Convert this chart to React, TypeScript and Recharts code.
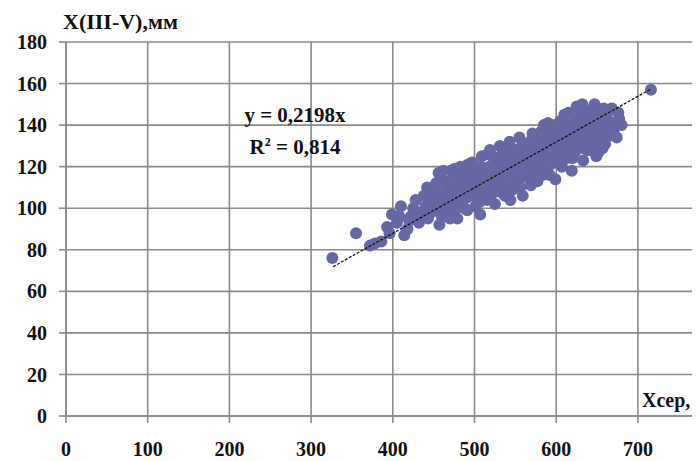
import React from "react";
import {
  ScatterChart,
  Scatter,
  XAxis,
  YAxis,
  CartesianGrid,
} from "recharts";

// Xcep (mm) / X(III-V) (mm) pairs
const xVals = [
  326, 355, 372, 378, 386, 393, 399, 405, 410, 414, 418, 422, 425, 428, 432, 436, 438, 440, 443, 446,
  448, 451, 453, 455, 457, 459, 461, 463, 465, 467, 469, 471, 473, 475, 477, 479, 481, 483, 485, 487,
  489, 491, 493, 495, 497, 499, 501, 503, 505, 507, 509, 511, 513, 515, 517, 519, 521, 523, 525, 527,
  529, 531, 533, 535, 537, 539, 541, 543, 545, 547, 549, 551, 553, 555, 557, 559, 561, 563, 565, 567,
  569, 571, 573, 575, 577, 579, 581, 583, 585, 587, 589, 591, 593, 595, 597, 599, 601, 603, 605, 607,
  609, 611, 613, 615, 617, 619, 621, 623, 625, 627, 629, 631, 633, 635, 637, 639, 641, 643, 645, 647,
  649, 651, 653, 655, 657, 659, 662, 665, 668, 671, 674, 677, 680, 716,
  442, 447, 452, 456, 460, 464, 468, 472, 476, 480, 484, 488, 492, 496, 500, 504, 508, 512, 516, 520,
  524, 528, 532, 536, 540, 544, 548, 552, 556, 560, 564, 568, 572, 576, 580, 584, 588, 592, 596, 600,
  604, 608, 612, 616, 620, 624, 628, 632, 636, 640, 644, 648, 652, 656, 660, 632, 610, 590,
  445, 450, 458, 462, 466, 470, 474, 478, 482, 486, 490, 494, 498, 502, 506, 510, 514, 518, 522, 526,
  530, 534, 538, 542, 546, 550, 554, 558, 562, 566, 570, 574, 578, 582, 586, 590, 594, 598, 602, 606,
  610, 614, 618, 622, 626, 630, 634, 638, 642, 646, 650, 654, 658, 664, 670, 676, 430, 420, 408, 396,
];
const yVals = [
  76, 88, 82, 83, 84, 91, 97, 93, 101, 87, 90, 96, 100, 104, 93, 98, 106, 101, 95, 109,
  103, 99, 112, 106, 92, 115, 102, 108, 97, 112, 104, 118, 100, 110, 106, 95, 114, 120, 103, 109,
  116, 99, 112, 106, 122, 118, 101, 110, 115, 97, 125, 108, 119, 104, 113, 128, 111, 117, 102, 123,
  108, 130, 114, 120, 106, 125, 111, 132, 117, 109, 122, 128, 113, 134, 119, 106, 125, 115, 130, 121,
  111, 136, 118, 127, 113, 133, 122, 116, 140, 126, 119, 131, 121, 137, 125, 114, 134, 128, 142, 120,
  131, 138, 124, 146, 133, 118, 141, 127, 149, 136, 130, 144, 123, 139, 147, 132, 128, 142, 136, 150,
  125, 140, 133, 146, 129, 138, 144, 135, 148, 141, 134, 143, 140, 157,
  110, 98, 104, 117, 96, 113, 101, 107, 119, 103, 111, 100, 121, 110, 114, 105, 120, 113, 126, 106,
  121, 115, 109, 128, 118, 104, 126, 118, 110, 131, 122, 128, 114, 132, 126, 120, 135, 116, 130, 122,
  137, 126, 132, 140, 124, 136, 143, 129, 135, 139, 131, 144, 127, 137, 131, 150, 145, 141,
  104, 110, 100, 118, 106, 95, 114, 100, 108, 117, 105, 115, 108, 120, 103, 116, 110, 120, 125, 110,
  120, 126, 115, 122, 128, 112, 124, 130, 119, 126, 133, 122, 128, 137, 130, 126, 134, 140, 130, 135,
  128, 136, 130, 145, 132, 138, 143, 128, 146, 140, 134, 142, 148, 140, 137, 146, 98, 94, 96, 88,
];

const xTicks = [0, 100, 200, 300, 400, 500, 600, 700];
const yTicks = [0, 20, 40, 60, 80, 100, 120, 140, 160, 180];

// linear trend through the origin
const slope = 0.2198;
const r2 = "0,814";
const trendX = [327, 716];

const points = xVals.map((x, i) => ({ x, y: yVals[i] }));
const trend = trendX.map((x) => ({ x, y: slope * x }));

const GRID = "#8a8a8a";
const DOT = "#6767a4";
const FONT = "'Liberation Serif', 'Times New Roman', serif";
const tickStyle = { fill: "#111", fontFamily: FONT, fontWeight: 700, fontSize: 20 };

const Dot = (p: any) => <circle cx={p.cx} cy={p.cy} r={6} fill={DOT} />;
const NoDot = () => <g />;

export default function App() {
  return (
    <div style={{ width: 692, height: 453, overflow: "hidden", fontFamily: FONT }}>
      <ScatterChart width={692} height={453} margin={{ top: 34, right: 0, left: 0, bottom: 0 }}>
        <CartesianGrid stroke={GRID} strokeWidth={1.6} />
        <XAxis
          type="number"
          dataKey="x"
          domain={[0, 776]}
          ticks={xTicks}
          interval={0}
          height={45}
          tickSize={7}
          tickMargin={19}
          stroke={GRID}
          strokeWidth={1.6}
          tick={tickStyle}
        />
        <YAxis
          type="number"
          dataKey="y"
          domain={[0, 180]}
          ticks={yTicks}
          interval={0}
          width={58}
          tickSize={7}
          tickMargin={12}
          stroke={GRID}
          strokeWidth={1.6}
          tick={tickStyle}
        />
        <Scatter data={points} fill={DOT} shape={Dot} isAnimationActive={false} />
        <Scatter
          data={trend}
          shape={NoDot}
          line={{ stroke: "#111", strokeWidth: 1.3, strokeDasharray: "3 1.5" }}
          isAnimationActive={false}
        />
        <text x={55} y={21} fontFamily={FONT} fontWeight={700} fontSize={22} fill="#111">
          X(III-V),мм
        </text>
        <text x={634} y={399} fontFamily={FONT} fontWeight={700} fontSize={20} fill="#111">
          Xcep,
        </text>
        <text x={287} y={114} textAnchor="middle" fontFamily={FONT} fontWeight={700} fontSize={21} fill="#111">
          y = 0,2198x
        </text>
        <text x={287} y={146} textAnchor="middle" fontFamily={FONT} fontWeight={700} fontSize={21} fill="#111">
          R<tspan dy={-8} fontSize={12}>2</tspan>
          <tspan dy={8}> = {r2}</tspan>
        </text>
      </ScatterChart>
    </div>
  );
}
